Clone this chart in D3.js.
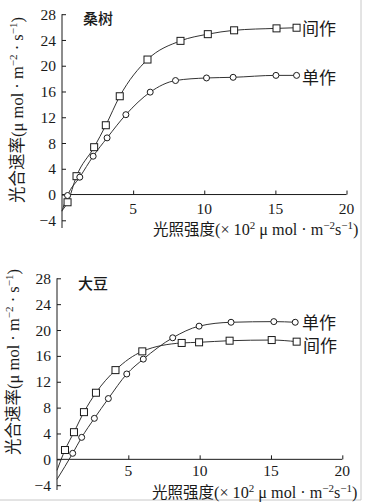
<!DOCTYPE html>
<html><head><meta charset="utf-8">
<script src="https://cdn.jsdelivr.net/npm/d3@7"></script>
<style>
html,body{margin:0;padding:0;background:#fff;}
svg{display:block;}
</style></head>
<body>
<svg id="c" width="367" height="503"></svg>
<script>
// ---- data ----
const yTicks = [-4, 0, 4, 8, 12, 16, 20, 24, 28];
const xTicks = [5, 10, 15, 20];
const seriesNames = ["间作", "单作"];
const panelTitles = ["桑树", "大豆"];

// 桑树 (mulberry)
const mulInterX = [0.39, 1.02, 2.26, 3.08, 4.06, 6.01, 8.33, 10.25, 12.1, 15.08, 16.49];
const mulInterY = [-1.2, 2.85, 7.35, 10.76, 15.26, 20.96, 23.86, 24.9, 25.5, 25.8, 25.9];
const mulMonoX  = [0.39, 1.25, 2.19, 3.17, 4.49, 6.2, 7.98, 10.16, 12.03, 15.04, 16.49];
const mulMonoY  = [-0.15, 2.7, 5.95, 8.8, 12.4, 15.9, 17.7, 18.1, 18.2, 18.5, 18.5];
const mulInterStart = [0, -2.5];
const mulMonoStart  = [0, -2.6];

// 大豆 (soybean)
const soyMonoX  = [1.1, 1.73, 2.62, 3.6, 4.89, 6.05, 8.11, 9.96, 12.2, 15.2, 16.7];
const soyMonoY  = [0.93, 3.4, 6.34, 9.4, 13.2, 15.5, 18.8, 20.6, 21.2, 21.3, 21.2];
const soyInterX = [0.56, 1.19, 1.89, 2.73, 4.1, 5.98, 8.74, 9.96, 12.1, 15.05, 16.8];
const soyInterY = [1.44, 4.2, 7.3, 10.3, 13.8, 16.7, 18.0, 18.1, 18.35, 18.45, 18.2];
const soyInterStart = [0, -1.7];
const soyMonoStart  = [0, -3.1];

const svg = d3.select("#c");
const serif = "'Liberation Serif','DejaVu Serif',serif";
const cjk = "'Noto Sans CJK SC','Noto Sans',sans-serif";
const ink = "#1a1a1a";

// frame lines
svg.append("line").attr("x1", 361).attr("x2", 361).attr("y1", 0).attr("y2", 500)
  .attr("stroke", "#c8c8c8").attr("stroke-width", 1);
svg.append("line").attr("x1", 0).attr("x2", 361).attr("y1", 500).attr("y2", 500)
  .attr("stroke", "#c8c8c8").attr("stroke-width", 1);

function panel(cfg) {
  const x = d3.scaleLinear().domain([0, 20]).range([cfg.x0, cfg.x20]);
  const y = d3.scaleLinear().domain([-4, 28]).range([cfg.yM4, cfg.y28]);
  const g = svg.append("g");

  // y axis
  const ya = d3.axisRight(y).tickValues(yTicks).tickSize(4).tickFormat("");
  const yg = g.append("g").attr("transform", `translate(${cfg.x0},0)`).call(ya);
  yg.select(".domain").remove();
  yg.selectAll(".tick line").attr("stroke", ink);
  g.append("line").attr("x1", cfg.x0).attr("x2", cfg.x0)
    .attr("y1", y(28)).attr("y2", cfg.yAxisBottom).attr("stroke", ink).attr("stroke-width", 1);
  g.selectAll(".ylab").data(yTicks).join("text")
    .attr("x", cfg.x0 - 6).attr("y", d => y(d)).attr("dy", "0.36em")
    .attr("text-anchor", "end").attr("font-family", serif).attr("font-size", 15.5)
    .attr("fill", ink).text(d => d < 0 ? "\u2212" + Math.abs(d) : d);

  // x axis at y=0
  const xa = d3.axisTop(x).tickValues(xTicks).tickSize(4).tickFormat("");
  const xg = g.append("g").attr("transform", `translate(0,${y(0)})`).call(xa);
  xg.select(".domain").remove();
  xg.selectAll(".tick line").attr("stroke", ink);
  g.append("line").attr("x1", cfg.x0).attr("x2", x(20)).attr("y1", y(0)).attr("y2", y(0))
    .attr("stroke", ink).attr("stroke-width", 1);
  g.selectAll(".xlab").data(xTicks).join("text")
    .attr("x", d => x(d)).attr("y", y(0) + cfg.xTickOff)
    .attr("text-anchor", "middle").attr("font-family", serif).attr("font-size", 15.5)
    .attr("fill", ink).text(d => d);

  // curves
  const line = d3.line().x(d => x(d[0])).y(d => y(d[1])).curve(d3.curveMonotoneX);
  cfg.series.forEach(s => {
    const pts = s.xs.map((v, i) => [v, s.ys[i]]);
    g.append("path").datum([s.start, ...pts]).attr("d", line)
      .attr("fill", "none").attr("stroke", "#333").attr("stroke-width", 1);
  });
  cfg.series.forEach(s => {
    const pts = s.xs.map((v, i) => [v, s.ys[i]]);
    if (s.shape === "square") {
      g.selectAll(null).data(pts).join("rect")
        .attr("x", d => x(d[0]) - 3.5).attr("y", d => y(d[1]) - 3.5)
        .attr("width", 7).attr("height", 7)
        .attr("fill", "#fff").attr("stroke", ink).attr("stroke-width", 1);
    } else {
      g.selectAll(null).data(pts).join("circle")
        .attr("cx", d => x(d[0])).attr("cy", d => y(d[1])).attr("r", 3)
        .attr("fill", "#fff").attr("stroke", ink).attr("stroke-width", 1);
    }
    g.append("text").attr("x", s.labX).attr("y", s.labY)
      .attr("font-family", cjk).attr("font-size", 17).attr("fill", ink).text(s.name);
  });

  // title
  g.append("text").attr("x", cfg.titleX).attr("y", cfg.titleY)
    .attr("font-family", cjk).attr("font-size", 15).attr("font-weight", 500)
    .attr("fill", ink).text(cfg.title);

  // y label (rotated)
  const yl = g.append("text")
    .attr("transform", `translate(${cfg.ylabX},${cfg.ylabY}) rotate(-90)`)
    .attr("text-anchor", "middle").attr("font-size", 16.5).attr("fill", ink);
  yl.append("tspan").attr("font-family", cjk).text("光合速率");
  yl.append("tspan").attr("font-family", serif).text("(μ mol · m");
  yl.append("tspan").attr("font-family", serif).attr("font-size", 11).attr("dy", -6).text("−2");
  yl.append("tspan").attr("font-family", serif).attr("dy", 6).text(" · s");
  yl.append("tspan").attr("font-family", serif).attr("font-size", 11).attr("dy", -6).text("−1");
  yl.append("tspan").attr("font-family", serif).attr("dy", 6).text(")");

  // x label
  const xl = g.append("text").attr("x", cfg.xlabX).attr("y", cfg.xlabY)
    .attr("font-size", 16.2).attr("fill", ink);
  xl.append("tspan").attr("font-family", cjk).attr("font-size", 15.5).text("光照强度");
  xl.append("tspan").attr("font-family", serif).text("(× 10");
  xl.append("tspan").attr("font-family", serif).attr("font-size", 11).attr("dy", -6).text("2");
  xl.append("tspan").attr("font-family", serif).attr("dy", 6).text(" μ mol · m");
  xl.append("tspan").attr("font-family", serif).attr("font-size", 11).attr("dy", -6).text("−2");
  xl.append("tspan").attr("font-family", serif).attr("dy", 6).text("s");
  xl.append("tspan").attr("font-family", serif).attr("font-size", 11).attr("dy", -6).text("−1");
  xl.append("tspan").attr("font-family", serif).attr("dy", 6).text(")");
}

panel({
  x0: 62, x20: 346.5, y28: 14.2, yM4: 220.3, yAxisBottom: 228, xTickOff: 19,
  title: panelTitles[0], titleX: 83, titleY: 24,
  ylabX: 23, ylabY: 110, xlabX: 153, xlabY: 235,
  series: [
    { name: seriesNames[0], shape: "square", xs: mulInterX, ys: mulInterY, start: mulInterStart, labX: 302, labY: 35 },
    { name: seriesNames[1], shape: "circle", xs: mulMonoX, ys: mulMonoY, start: mulMonoStart, labX: 302, labY: 84 }
  ]
});

panel({
  x0: 57, x20: 342.3, y28: 278.3, yM4: 485.2, yAxisBottom: 490, xTickOff: 17,
  title: panelTitles[1], titleX: 78, titleY: 289,
  ylabX: 19, ylabY: 362, xlabX: 152, xlabY: 498,
  series: [
    { name: seriesNames[0], shape: "square", xs: soyInterX, ys: soyInterY, start: soyInterStart, labX: 303, labY: 352 },
    { name: seriesNames[1], shape: "circle", xs: soyMonoX, ys: soyMonoY, start: soyMonoStart, labX: 302, labY: 329 }
  ]
});
</script>
</body></html>
